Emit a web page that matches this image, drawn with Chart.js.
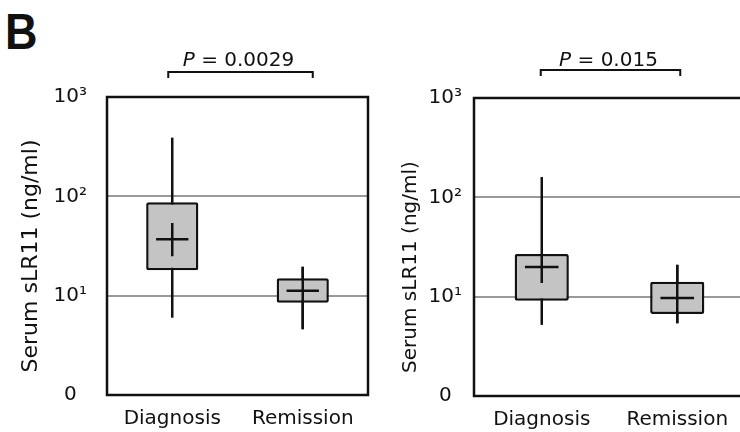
<!DOCTYPE html>
<html>
<head>
<meta charset="utf-8">
<script src="https://cdn.jsdelivr.net/npm/chart.js@4"></script>
<style>
  html, body { margin: 0; padding: 0; width: 740px; height: 432px; overflow: hidden; background: #fff; }
  #panelLabel { position: absolute; left: 5px; top: 3px; line-height: 1; font: bold 50px "Liberation Sans", Arial, sans-serif; color: #111; transform: scaleX(0.9); transform-origin: left top; }
  #leftChart { position: absolute; left: 0; top: 0; }
  #rightChart { position: absolute; left: 370px; top: 0; }
</style>
</head>
<body>
<div id="panelLabel">B</div>
<canvas id="leftChart" width="370" height="432"></canvas>
<canvas id="rightChart" width="390" height="432"></canvas>
<script>
// categories and axis ticks
const categories = ['Diagnosis', 'Remission'];
const yTickValues = [1, 10, 100, 1000];
const yTickLabels = ['0', '10¹', '10²', '10³'];
const yTitle = 'Serum sLR11 (ng/ml)';

// left panel (ng/ml)
const leftLow = [6, 4.6];
const leftQ1 = [18, 8.5];
const leftMedian = [37, 11.2];
const leftQ3 = [87, 15];
const leftHigh = [390, 19.5];
const leftCrossLo = [25, 4.6];
const leftCrossHi = [54, 19.5];
const leftP = '0.0029';

// right panel (ng/ml)
const rightLow = [5.2, 5.4];
const rightQ1 = [9.1, 6.7];
const rightMedian = [19.9, 9.7];
const rightQ3 = [26.9, 14.1];
const rightHigh = [160, 20.9];
const rightCrossLo = [13.7, 5.4];
const rightCrossHi = [26.9, 20.9];
const rightP = '0.015';

const FONT = '"DejaVu Sans", "Liberation Sans", sans-serif';
const INK = '#111';

// whiskers under the boxes, crosses + frame over them, titles and P bracket
function boxParts(low, high, median, crossLo, crossHi, pText, look) {
    return {
        id: 'boxParts',
        beforeDatasetsDraw(chart) {
            const ctx = chart.ctx, x = chart.scales.x, y = chart.scales.y;
            ctx.save();
            ctx.strokeStyle = INK;
            ctx.lineWidth = 2.5;
            low.forEach((lo, i) => {
                const px = x.getPixelForValue(i);
                ctx.beginPath();
                ctx.moveTo(px, y.getPixelForValue(lo));
                ctx.lineTo(px, y.getPixelForValue(high[i]));
                ctx.stroke();
            });
            ctx.restore();
        },
        afterDatasetsDraw(chart) {
            const ctx = chart.ctx, x = chart.scales.x, y = chart.scales.y;
            const bars = chart.getDatasetMeta(0).data;
            ctx.save();
            ctx.strokeStyle = INK;
            ctx.lineWidth = 2.5;
            median.forEach((m, i) => {
                const px = x.getPixelForValue(i);
                const half = bars[i].width * 0.31;
                const py = y.getPixelForValue(m);
                ctx.beginPath();
                ctx.moveTo(px - half, py);
                ctx.lineTo(px + half, py);
                ctx.moveTo(px, y.getPixelForValue(crossLo[i]));
                ctx.lineTo(px, y.getPixelForValue(crossHi[i]));
                ctx.stroke();
            });
            const a = chart.chartArea;
            ctx.lineWidth = 2.5;
            ctx.strokeRect(a.left, a.top, a.right - a.left, a.bottom - a.top);
            ctx.restore();
        },
        afterDraw(chart) {
            const ctx = chart.ctx, x = chart.scales.x;
            ctx.save();
            ctx.fillStyle = INK;
            ctx.strokeStyle = INK;

            // y title
            ctx.translate(look.titleX, look.titleY);
            ctx.rotate(-Math.PI / 2);
            ctx.font = look.titleSize + 'px ' + FONT;
            ctx.textAlign = 'center';
            ctx.textBaseline = 'middle';
            ctx.fillText(yTitle, 0, 0);
            ctx.setTransform(1, 0, 0, 1, 0, 0);

            // P value bracket
            const x0 = x.getPixelForValue(0) + look.bracketPad[0];
            const x1 = x.getPixelForValue(1) + look.bracketPad[1];
            ctx.lineWidth = 2;
            ctx.beginPath();
            ctx.moveTo(x0, look.bracketY + 6);
            ctx.lineTo(x0, look.bracketY);
            ctx.lineTo(x1, look.bracketY);
            ctx.lineTo(x1, look.bracketY + 6);
            ctx.stroke();

            const italic = 'italic 20px ' + FONT, plain = '20px ' + FONT;
            const rest = ' = ' + pText;
            ctx.font = italic;
            const wP = ctx.measureText('P').width;
            ctx.font = plain;
            const wR = ctx.measureText(rest).width;
            let tx = (x0 + x1) / 2 - 2 - (wP + wR) / 2;
            ctx.textAlign = 'left';
            ctx.textBaseline = 'alphabetic';
            ctx.font = italic;
            ctx.fillText('P', tx, 66);
            ctx.font = plain;
            ctx.fillText(rest, tx + wP, 66);
            ctx.restore();
        }
    };
}

function makePanel(canvasId, q1, q3, parts, look) {
    const ctx = document.getElementById(canvasId).getContext('2d');
    new Chart(ctx, {
        type: 'bar',
        data: {
            labels: categories,
            datasets: [{
                data: categories.map((c, i) => [q1[i], q3[i]]),
                backgroundColor: '#c4c4c4',
                borderColor: INK,
                borderWidth: 2.5,
                borderSkipped: false,
                borderRadius: 2,
                barPercentage: 0.4,
                categoryPercentage: 1
            }]
        },
        options: {
            responsive: false,
            animation: false,
            layout: { padding: look.padding },
            plugins: { legend: { display: false }, tooltip: { enabled: false } },
            scales: {
                x: {
                    grid: { display: false },
                    border: { display: false },
                    ticks: { color: INK, padding: 4, font: { family: FONT, size: 20 } },
                    afterFit: s => { s.height = look.xHeight; }
                },
                y: {
                    type: 'logarithmic',
                    min: 1,
                    max: 1000,
                    afterBuildTicks: s => { s.ticks = yTickValues.map(v => ({ value: v })); },
                    afterFit: s => { s.width = look.yWidth; },
                    grid: {
                        drawTicks: false,
                        lineWidth: 2,
                        color: c => (c.tick && (c.tick.value === 10 || c.tick.value === 100)) ? '#999' : 'rgba(0,0,0,0)'
                    },
                    border: { display: false },
                    ticks: {
                        autoSkip: false,
                        color: INK,
                        padding: look.tickPad,
                        crossAlign: 'center',
                        font: { family: FONT, size: 20 },
                        callback: v => yTickLabels[yTickValues.indexOf(v)]
                    }
                }
            }
        },
        plugins: [parts]
    });
}

makePanel('leftChart', leftQ1, leftQ3,
    boxParts(leftLow, leftHigh, leftMedian, leftCrossLo, leftCrossHi, leftP,
        { titleX: 31, titleY: 256, titleSize: 22, bracketY: 72, bracketPad: [-4, 10] }),
    { padding: { left: 0, right: 2, top: 97, bottom: 0 }, yWidth: 107, xHeight: 37, tickPad: 20 });

makePanel('rightChart', rightQ1, rightQ3,
    boxParts(rightLow, rightHigh, rightMedian, rightCrossLo, rightCrossHi, rightP,
        { titleX: 41, titleY: 267, titleSize: 20, bracketY: 70, bracketPad: [-1, 3] }),
    { padding: { left: 0, right: 15, top: 98, bottom: 0 }, yWidth: 104, xHeight: 36, tickPad: 12 });
</script>
</body>
</html>
